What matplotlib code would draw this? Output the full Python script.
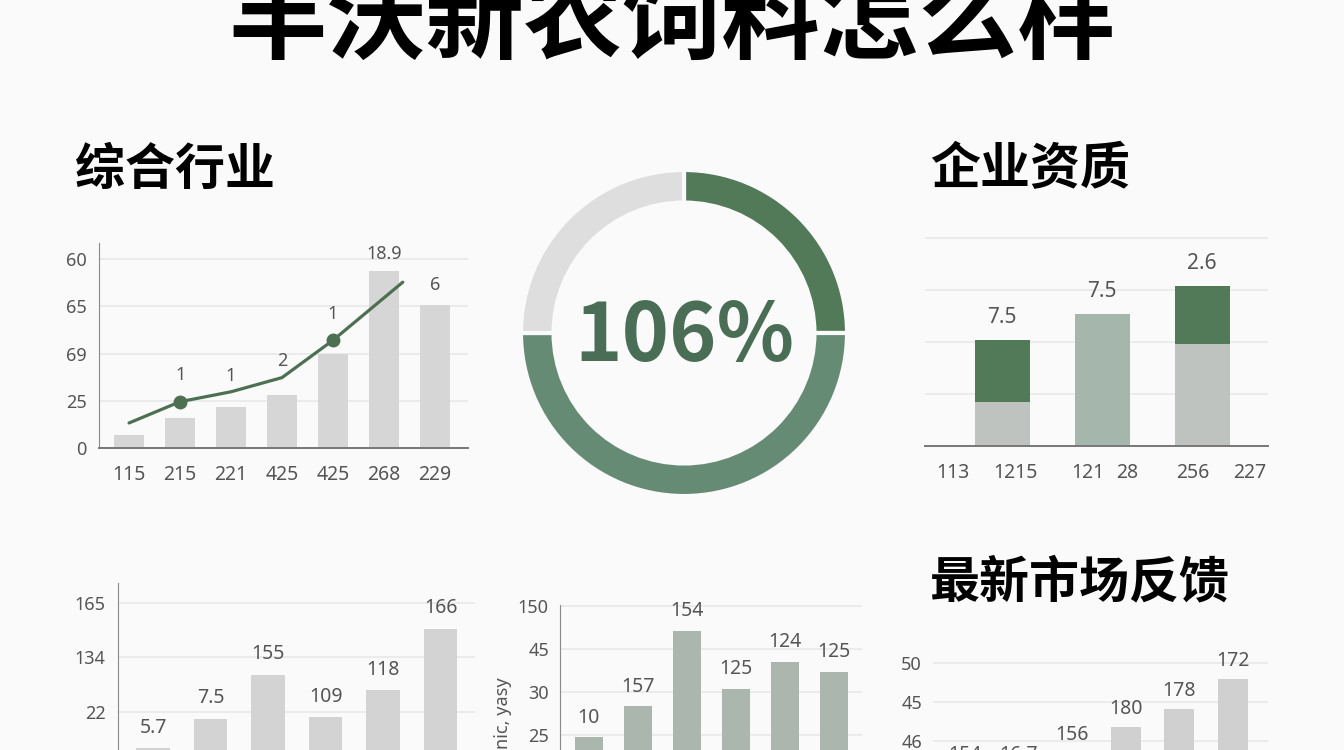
import matplotlib
matplotlib.use("Agg")
import matplotlib.pyplot as plt

plt.rcParams['font.family'] = ['Noto Sans', 'Noto Sans CJK SC', 'DejaVu Sans']

# ---- data ----
title = '丰沃新农饲料怎么样'

# 综合行业 (bar + line)
c1_names = ['115', '215', '221', '425', '425', '268', '229']
c1_bars = [0.28, 0.64, 0.87, 1.13, 1.98, 3.74, 3.02]
c1_line_x = [0, 1, 2, 3, 4, 5.37]
c1_line_y = [0.53, 0.98, 1.19, 1.49, 2.28, 3.51]
c1_line_marks = [1, 4]
c1_line_labels = ['', '1', '1', '2', '1', '']
c1_bar_labels = ['', '', '', '', '', '18.9', '6']
c1_yticks = ['0', '25', '69', '65', '60']

# donut
ring_vals = [25, 50, 25]
ring_text = '106%'

# 企业资质 (stacked bars)
c2_base = [0.85, 2.54, 1.96]
c2_top = [1.19, 0.0, 1.12]
c2_labels = ['7.5', '7.5', '2.6']
c2_tick_pos = [-0.49, 0.13, 0.86, 1.25, 1.91, 2.48]
c2_tick_labels = ['113', '1215', '121', '28', '256', '227']

# bottom left
c3_bars = [1.32, 1.87, 2.68, 1.89, 2.39, 3.52]
c3_labels = ['5.7', '7.5', '155', '109', '118', '166']
c3_yticks = ['22', '134', '165']

# bottom middle
c4_bars = [1.95, 2.67, 4.42, 3.07, 3.70, 3.47]
c4_labels = ['10', '157', '154', '125', '124', '125']
c4_yticks = ['25', '30', '45', '150']
c4_ylabel = "nic, yasy"

# 最新市场反馈
c5_bars = [1.18, 1.18, 1.69, 2.36, 2.82, 3.59]
c5_labels = ['154', '16.7', '156', '180', '178', '172']
c5_yticks = ['46', '45', '50']

# ---- colours ----
GREEN = '#527a58'
MID = '#668b74'
LIGHT = '#dedede'
BAR_GREY = '#d6d6d6'
GRID = '#e9e9e9'
TXT = '#555555'

W, H = 1344, 750
fig = plt.figure(figsize=(W / 100, H / 100), dpi=100)
fig.patch.set_facecolor('#fafafa')


def px_axes(left, top, right, bottom):
    return fig.add_axes([left / W, 1 - bottom / H, (right - left) / W, (bottom - top) / H])


def base_style(ax, left_spine=True):
    ax.set_facecolor('none')
    for s in ['top', 'right']:
        ax.spines[s].set_visible(False)
    ax.spines['left'].set_visible(left_spine)
    ax.spines['left'].set_color('#8a8a8a')
    ax.spines['bottom'].set_color('#777777')
    ax.spines['bottom'].set_linewidth(1.4)
    ax.tick_params(length=0, colors=TXT)
    ax.grid(axis='y', color=GRID, linewidth=1.2)
    ax.set_axisbelow(True)


# title, clipped at the top like the reference
fig.text(0.5, 1 - 22 / H, title, ha='center', va='center', fontsize=71,
         fontweight='heavy', family=['Noto Sans CJK SC'], color='black')

fig.text(75 / W, 1 - 170 / H, '综合行业', ha='left', va='center', fontsize=36,
         fontweight='bold', family=['Noto Sans CJK SC'])
fig.text(930 / W, 1 - 170 / H, '企业资质', ha='left', va='center', fontsize=36,
         fontweight='bold', family=['Noto Sans CJK SC'])
fig.text(930 / W, 1 - 583 / H, '最新市场反馈', ha='left', va='center', fontsize=36,
         fontweight='bold', family=['Noto Sans CJK SC'])

# ---- chart 1 ----
ax1 = px_axes(99, 243, 468, 448)
base_style(ax1)
x1 = range(len(c1_bars))
ax1.bar(x1, c1_bars, width=0.58, color=BAR_GREY)
ax1.plot(c1_line_x, c1_line_y, color='#4d7053', linewidth=2.3, solid_capstyle='round')
ax1.plot([c1_line_x[i] for i in c1_line_marks], [c1_line_y[i] for i in c1_line_marks],
         'o', color='#4d7053', markersize=9)
line_off = [0, 27, 16, 17, 26, 0]
for i, t in enumerate(c1_line_labels):
    if t:
        ax1.annotate(t, (c1_line_x[i], c1_line_y[i]), xytext=(0, line_off[i] * 0.72),
                     textcoords='offset points', ha='center', va='center',
                     fontsize=13, color=TXT)
bar_off = [0, 0, 0, 0, 0, 17, 20]
for i, t in enumerate(c1_bar_labels):
    if t:
        ax1.annotate(t, (i, c1_bars[i]), xytext=(0, bar_off[i] * 0.72),
                     textcoords='offset points', ha='center', va='center',
                     fontsize=13, color=TXT)
ax1.set_xlim(-0.59, 6.65)
ax1.set_ylim(0, 4.34)
ax1.set_yticks(range(len(c1_yticks)))
ax1.set_yticklabels(c1_yticks, fontsize=13)
ax1.set_xticks(list(x1))
ax1.set_xticklabels(c1_names, fontsize=14)
ax1.tick_params(axis='x', pad=12)
ax1.tick_params(axis='y', pad=9)

# ---- donut ----
axd = px_axes(684 - 180, 333 - 180, 684 + 180, 333 + 180)
axd.pie(ring_vals, colors=[GREEN, MID, LIGHT], startangle=90, counterclock=False,
        radius=1, wedgeprops=dict(width=0.2, edgecolor='#fafafa', linewidth=3))
axd.set_xlim(-1.104, 1.104)
axd.set_ylim(-1.104, 1.104)
axd.set_aspect('equal')
axd.axis('off')
axd.text(0, -0.03, ring_text, ha='center', va='center', fontsize=58,
         fontweight='bold', family=['Noto Sans CJK SC'], color='#4a6e55')

# ---- chart 2 ----
ax2 = px_axes(925, 230, 1268, 446)
base_style(ax2, left_spine=False)
x2 = range(len(c2_base))
base_cols = ['#bfc3c0', '#a5b6ac', '#bfc3c0']
ax2.bar(x2, c2_base, width=0.55, color=base_cols)
ax2.bar(x2, c2_top, bottom=c2_base, width=0.55, color=GREEN)
for i, t in enumerate(c2_labels):
    ax2.annotate(t, (i, c2_base[i] + c2_top[i]), xytext=(0, 16), textcoords='offset points',
                 ha='center', va='center', fontsize=15, color=TXT)
ax2.set_xlim(-0.77, 2.66)
ax2.set_ylim(0, 4.15)
ax2.set_yticks([1, 2, 3, 4])
ax2.set_yticklabels([])
ax2.set_xticks(c2_tick_pos)
ax2.set_xticklabels(c2_tick_labels, fontsize=14)
ax2.tick_params(axis='x', pad=12)

# ---- chart 3 ----
ax3 = px_axes(118, 583, 475, 820)
base_style(ax3)
x3 = range(len(c3_bars))
ax3.bar(x3, c3_bars, width=0.58, color='#d3d3d3')
for i, t in enumerate(c3_labels):
    ax3.annotate(t, (i, c3_bars[i]), xytext=(0, 15), textcoords='offset points',
                 ha='center', va='center', fontsize=14, color=TXT)
ax3.set_xlim(-0.61, 5.6)
ax3.set_ylim(0, 4.37)
ax3.set_yticks([1, 2, 3, 4])
ax3.set_yticklabels([''] + c3_yticks, fontsize=13)
ax3.tick_params(axis='y', pad=9)
ax3.set_xticks([])

# ---- chart 4 ----
ax4 = px_axes(560, 605, 862, 821)
base_style(ax4)
x4 = range(len(c4_bars))
ax4.bar(x4, c4_bars, width=0.57, color='#abb6af')
for i, t in enumerate(c4_labels):
    ax4.annotate(t, (i, c4_bars[i]), xytext=(0, 14), textcoords='offset points',
                 ha='center', va='center', fontsize=14, color=TXT)
ax4.set_xlim(-0.59, 5.57)
ax4.set_ylim(0, 5.02)
ax4.set_yticks([1, 2, 3, 4, 5])
ax4.set_yticklabels([''] + c4_yticks, fontsize=13)
ax4.tick_params(axis='y', pad=8)
ax4.set_xticks([])
ax4.set_ylabel(c4_ylabel, fontsize=13, color=TXT, labelpad=4)

# ---- chart 5 ----
ax5 = px_axes(933, 650, 1268, 819)
base_style(ax5, left_spine=False)
x5 = range(len(c5_bars))
ax5.bar(x5, c5_bars, width=0.56, color='#d0d0d0')
for i, t in enumerate(c5_labels):
    ax5.annotate(t, (i, c5_bars[i]), xytext=(0, 13), textcoords='offset points',
                 ha='center', va='center', fontsize=14, color=TXT)
ax5.set_xlim(-0.6, 5.66)
ax5.set_ylim(0, 4.33)
ax5.set_yticks([1, 2, 3, 4])
ax5.set_yticklabels([''] + c5_yticks, fontsize=13)
ax5.tick_params(axis='y', pad=8)
ax5.set_xticks([])

fig.savefig('out.png', dpi=100, facecolor=fig.get_facecolor())
